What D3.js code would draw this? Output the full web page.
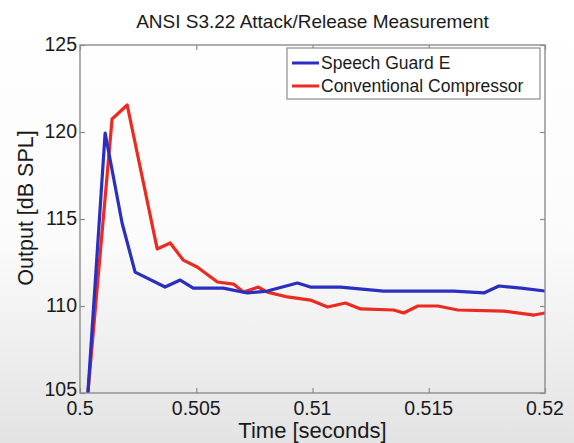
<!DOCTYPE html>
<html>
<head>
<meta charset="utf-8">
<script src="https://cdn.jsdelivr.net/npm/d3@7"></script>
<style>
    body { margin: 0; background: #fff; }
    text { font-family: "Liberation Sans", Arial, sans-serif; fill: #1a1a1a; }
</style>
</head>
<body>
<div id="chart"></div>
<script>
// values
let seriesNames = ["Speech Guard E", "Conventional Compressor"];
let seriesColors = ["#2a2fbf", "#ec2a1f"];

let guardTime = [0.50034, 0.50108, 0.50181, 0.50237, 0.50366, 0.50431, 0.50487, 0.50616, 0.50720,
    0.50806, 0.50935, 0.50991, 0.51121, 0.51306, 0.51608, 0.51737, 0.51802, 0.51897, 0.52];
let guardOutput = [105.0, 119.94, 114.77, 111.95, 111.09, 111.49, 111.03, 111.03, 110.75,
    110.86, 111.32, 111.09, 111.09, 110.86, 110.86, 110.75, 111.15, 111.03, 110.86];

let compTime = [0.50034, 0.50138, 0.50203, 0.50332, 0.50388, 0.50444, 0.50504, 0.50591, 0.50660,
    0.50703, 0.50767, 0.50806, 0.50892, 0.50991, 0.51065, 0.51142, 0.51207, 0.51349, 0.51392,
    0.51453, 0.51539, 0.51625, 0.51823, 0.51953, 0.52];
let compOutput = [105.0, 120.75, 121.55, 113.28, 113.62, 112.64, 112.24, 111.38, 111.26,
    110.80, 111.09, 110.80, 110.52, 110.34, 109.94, 110.17, 109.83, 109.77, 109.60,
    110.0, 110.0, 109.77, 109.71, 109.48, 109.6];

let xTicks = [0.5, 0.505, 0.51, 0.515, 0.52];
let xTickLabels = ["0.5", "0.505", "0.51", "0.515", "0.52"];
let yTicks = [105, 110, 115, 120, 125];

let titleText = "ANSI S3.22 Attack/Release Measurement";
let xLabel = "Time [seconds]";
let yLabel = "Output [dB SPL]";

function drawChart(totalWidth, totalHeight) {
    let margin = {top: 45, right: 29, bottom: 50, left: 80};
    let width = totalWidth - margin.left - margin.right;
    let height = totalHeight - margin.top - margin.bottom;

    let svg = d3.select("#chart").append("svg")
        .attr("width", totalWidth)
        .attr("height", totalHeight);

    let defs = svg.append("defs");
    let grad = defs.append("linearGradient")
        .attr("id", "bgGrad")
        .attr("x1", 0).attr("y1", 0).attr("x2", 0).attr("y2", 1);
    grad.append("stop").attr("offset", "0").attr("stop-color", "#ffffff");
    grad.append("stop").attr("offset", "0.55").attr("stop-color", "#fbfbfb");
    grad.append("stop").attr("offset", "1").attr("stop-color", "#e3e3e3");
    defs.append("clipPath").attr("id", "plotClip")
        .append("rect").attr("width", width).attr("height", height);

    svg.append("rect")
        .attr("width", totalWidth)
        .attr("height", totalHeight)
        .attr("fill", "url(#bgGrad)");

    let g = svg.append("g")
        .attr("transform", "translate(" + margin.left + " " + margin.top + ")");

    let x = d3.scaleLinear().domain([0.5, 0.52]).range([0, width]);
    let y = d3.scaleLinear().domain([105, 125]).range([height, 0]);

    // ticks pointing inwards on all four sides, like a matlab box
    let tickLen = 5;
    let axisColor = "#8c8c8c";
    g.append("g")
        .attr("transform", "translate(0, " + height + ")")
        .call(d3.axisBottom(x).tickValues(xTicks).tickSize(-tickLen).tickFormat(""))
        .call(a => a.select(".domain").remove());
    g.append("g")
        .call(d3.axisTop(x).tickValues(xTicks).tickSize(-tickLen).tickFormat(""))
        .call(a => a.select(".domain").remove());
    g.append("g")
        .call(d3.axisLeft(y).tickValues(yTicks).tickSize(-tickLen).tickFormat(""))
        .call(a => a.select(".domain").remove());
    g.append("g")
        .attr("transform", "translate(" + width + ", 0)")
        .call(d3.axisRight(y).tickValues(yTicks).tickSize(-tickLen).tickFormat(""))
        .call(a => a.select(".domain").remove());
    g.selectAll(".tick line").attr("stroke", axisColor).attr("stroke-width", 1.2);

    // tick labels ("105" and "0.5" touch each other in the original too)
    g.append("g").selectAll("text")
        .data(xTicks)
        .enter()
        .append("text")
        .attr("x", d => x(d))
        .attr("y", height + 22)
        .style("text-anchor", "middle")
        .style("font-size", "19.5px")
        .text((d, i) => xTickLabels[i]);
    g.append("g").selectAll("text")
        .data(yTicks)
        .enter()
        .append("text")
        .attr("x", -3)
        .attr("y", d => y(d) + (d === 105 ? 3 : 6))
        .style("text-anchor", "end")
        .style("font-size", "19.5px")
        .text(d => d);

    // the lines
    let line = d3.line()
        .x(d => x(d[0]))
        .y(d => y(d[1]));
    let compData = d3.zip(compTime, compOutput);
    let guardData = d3.zip(guardTime, guardOutput);
    let lines = g.append("g").attr("clip-path", "url(#plotClip)");
    lines.append("path")
        .datum(compData)
        .attr("d", line)
        .attr("fill", "none")
        .attr("stroke", seriesColors[1])
        .attr("stroke-width", 3.2)
        .attr("stroke-linejoin", "round");
    lines.append("path")
        .datum(guardData)
        .attr("d", line)
        .attr("fill", "none")
        .attr("stroke", seriesColors[0])
        .attr("stroke-width", 3.2)
        .attr("stroke-linejoin", "round");

    // box
    g.append("rect")
        .attr("width", width)
        .attr("height", height)
        .attr("fill", "none")
        .attr("stroke", axisColor)
        .attr("stroke-width", 1.4);

    // legend
    let legend = g.append("g").attr("transform", "translate(" + (287 - margin.left) + " " + (48 - margin.top) + ")");
    legend.append("rect")
        .attr("width", 253)
        .attr("height", 51)
        .attr("fill", "#fff")
        .attr("stroke", axisColor)
        .attr("stroke-width", 1.2);
    let rows = legend.selectAll(".row")
        .data(seriesNames)
        .enter()
        .append("g")
        .attr("class", "row")
        .attr("transform", (d, i) => "translate(0 " + (15 + i * 23) + ")");
    rows.append("line")
        .attr("x1", 5).attr("x2", 32)
        .attr("stroke", (d, i) => seriesColors[i])
        .attr("stroke-width", 3);
    rows.append("text")
        .attr("x", 34)
        .attr("y", 6)
        .style("font-size", "17.5px")
        .text(d => d);

    // title and axis labels
    svg.append("text")
        .attr("x", margin.left + width / 2)
        .attr("y", 28)
        .style("text-anchor", "middle")
        .style("font-size", "19px")
        .text(titleText);
    svg.append("text")
        .attr("x", margin.left + width / 2)
        .attr("y", 438)
        .style("text-anchor", "middle")
        .style("font-size", "22px")
        .text(xLabel);
    svg.append("text")
        .attr("transform", "translate(33 " + 208 + ") rotate(-90)")
        .style("text-anchor", "middle")
        .style("font-size", "21.5px")
        .text(yLabel);
}

drawChart(574, 443);
</script>
</body>
</html>
